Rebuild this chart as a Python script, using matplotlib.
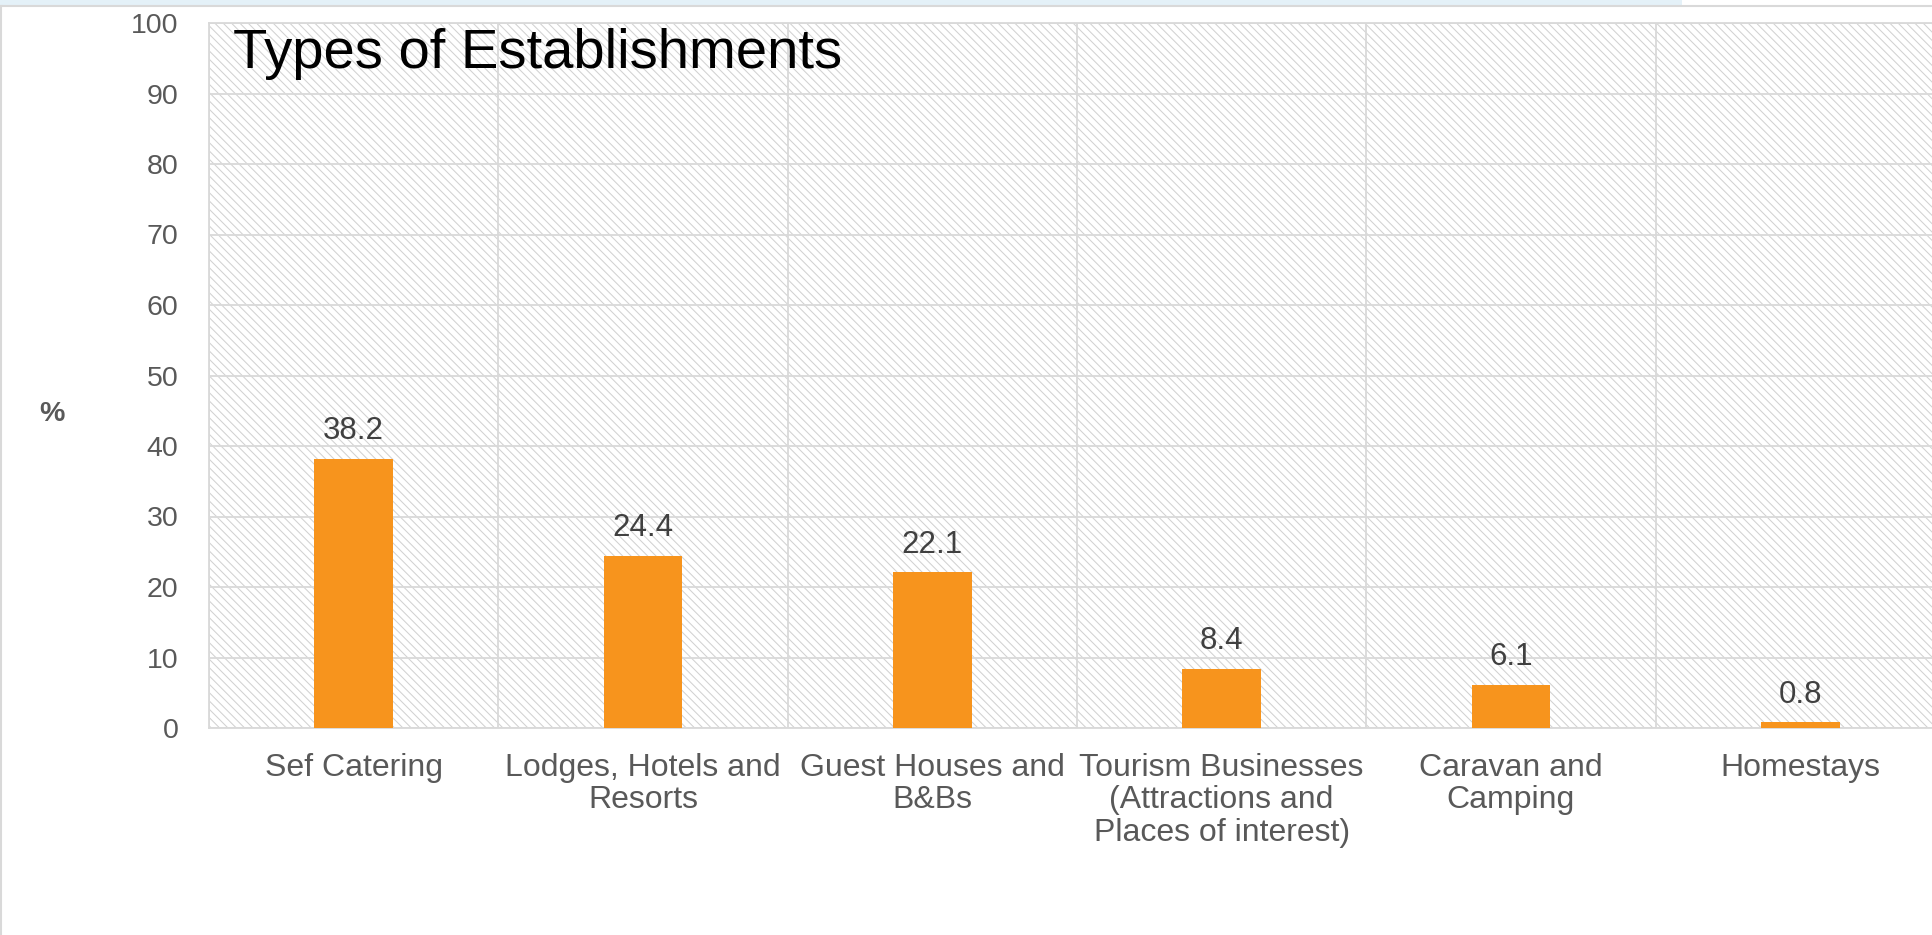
import numpy as np
import matplotlib
matplotlib.use("Agg")
from matplotlib import pyplot as plt
from matplotlib.lines import Line2D
from matplotlib.patches import Rectangle

# chart data
categories = ["Sef Catering", "Lodges, Hotels and\nResorts", "Guest Houses and\nB&Bs",
              "Tourism Businesses\n(Attractions and\nPlaces of interest)",
              "Caravan and\nCamping", "Homestays"]
values = [38.2, 24.4, 22.1, 8.4, 6.1, 0.8]
yticks = [0, 10, 20, 30, 40, 50, 60, 70, 80, 90, 100]

plt.rcParams['font.family'] = ['Liberation Sans', 'DejaVu Sans']
plt.rcParams['hatch.linewidth'] = 0.75

W, H = 1933, 935
fig = plt.figure(figsize=(W / 100, H / 100), dpi=100)

# axes box in pixels (right edge runs off the picture, as in the original)
left, right, top, bottom = 209, 1945, 23, 728
ax = fig.add_axes([left / W, 1 - bottom / H, (right - left) / W, (bottom - top) / H])

# hatched plot area
ax.patch.set_facecolor('white')
ax.patch.set_hatch('\\\\\\\\')
ax.patch.set_edgecolor('#d2d2d2')

x = np.arange(len(categories))
bars = ax.bar(x, values, width=0.273, color='#F7941D', zorder=3)

for xi, v in zip(x, values):
    ax.annotate(f"{v}", (xi, v), xytext=(0, 9), textcoords='offset points',
                ha='center', va='bottom', fontsize=22.5, color='#404040')

ax.set_xlim(-0.5, len(categories) - 0.5)
ax.set_ylim(0, 100)
ax.set_yticks(yticks)
ax.set_xticks(x)
ax.set_xticklabels(categories, fontsize=23, color='#595959', linespacing=1.1)
ax.set_xticks(np.arange(len(categories) + 1) - 0.5, minor=True)
ax.tick_params(axis='y', length=0, pad=22, labelsize=20.5, labelcolor='#595959')
ax.tick_params(axis='x', which='both', length=0, pad=18)

ax.grid(axis='y', color='#d9d9d9', linewidth=1.3, zorder=1)
ax.grid(axis='x', which='minor', color='#d9d9d9', linewidth=1.3, zorder=1)
ax.set_axisbelow(True)
for s in ax.spines.values():
    s.set_color('#d9d9d9')
    s.set_linewidth(1.3)

fig.text(52 / W, 1 - 414 / H, '%', fontsize=20.5, fontweight='bold', color='#595959',
         ha='center', va='center')
ax.text(0.014, 0.993, 'Types of Establishments', transform=ax.transAxes,
        fontsize=40.5, color='black', ha='left', va='top')

# frame bits around the chart (slide border)
fig.patches.append(Rectangle((0, 1 - 5 / H), 1682 / W, 5 / H, transform=fig.transFigure,
                             facecolor='#e4f1f8', edgecolor='none'))
fig.lines.append(Line2D([0, 1], [1 - 6 / H, 1 - 6 / H], transform=fig.transFigure,
                        color='#d9d9d9', linewidth=1.5))
fig.lines.append(Line2D([1.5 / W, 1.5 / W], [0, 1 - 6 / H], transform=fig.transFigure,
                        color='#d9d9d9', linewidth=1.5))

fig.savefig('out.png', dpi=100)
